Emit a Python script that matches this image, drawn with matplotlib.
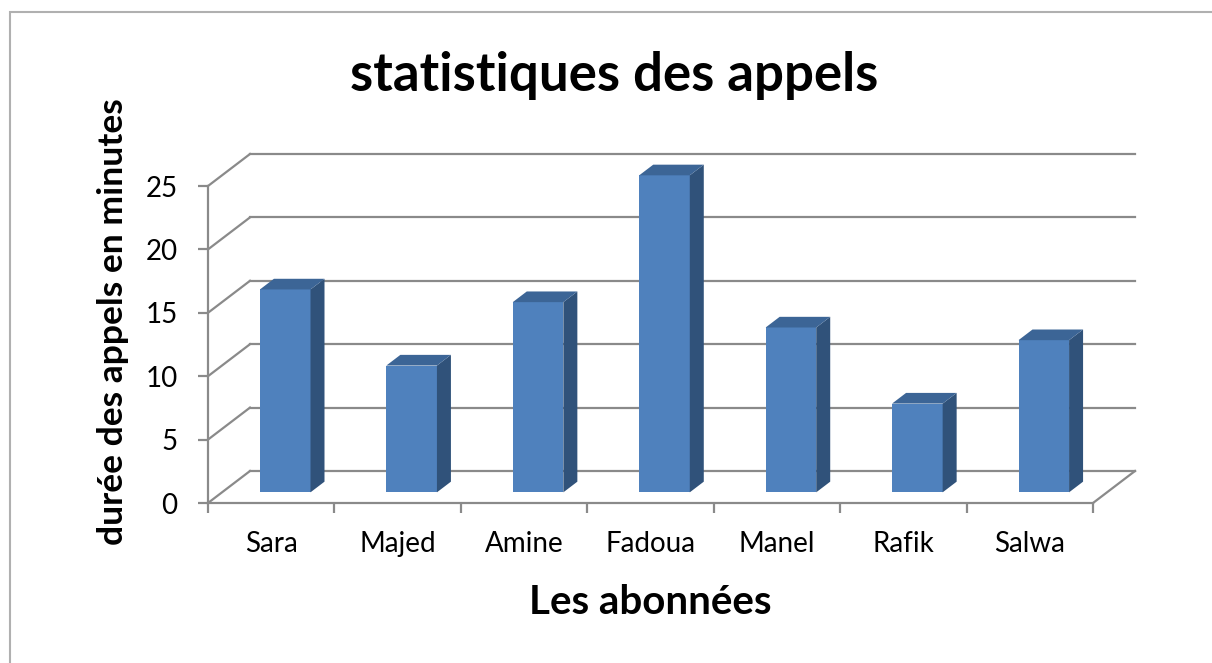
import numpy as np
import matplotlib
matplotlib.use("Agg")
import matplotlib.pyplot as plt
from matplotlib.patches import Rectangle

names = ["Sara", "Majed", "Amine", "Fadoua", "Manel", "Rafik", "Salwa"]
minutes = [16, 10, 15, 25, 13, 7, 12]
yticks = [0, 5, 10, 15, 20, 25]

plt.rcParams['font.family'] = ['Lato', 'DejaVu Sans']

W, H = 1212, 663
fig = plt.figure(figsize=(W / 100, H / 100), dpi=100)

# axes placed in pixels, limits chosen so the 3D frame lands where the reference has it
left_px, right_px, top_px, bot_px = 150, 1180, 120, 530
ax = fig.add_axes([left_px / W, 1 - bot_px / H, (right_px - left_px) / W, (bot_px - top_px) / H])
x0_px, x7_px, y0_px, y25_px = 208, 1093, 503, 186
sx = (x7_px - x0_px) / 7.0
sy = (y0_px - y25_px) / 25.0
ax.set_xlim((left_px - x0_px) / sx, (right_px - x0_px) / sx)
ax.set_ylim((y0_px - bot_px) / sy, (y0_px - top_px) / sy)

# depth of the 3D box, in data units
dx, dy = 42 / sx, 32 / sy
n = len(names)
grey = "#8a8a8a"

# back wall grid + side wall diagonals
for v in yticks:
    ax.plot([dx, n + dx], [v + dy, v + dy], color=grey, lw=1.6, zorder=1)
    ax.plot([0, dx], [v, v + dy], color=grey, lw=1.6, zorder=1)
# floor
ax.plot([n, n + dx], [0, dy], color=grey, lw=1.6, zorder=1)

# bars: front face at 1/3 of the depth, back at 2/3
bw = 0.4
fdx, fdy = dx / 3, dy / 3
xs = np.arange(n) + 0.5 + fdx
ax.bar(xs, minutes, width=bw, bottom=fdy, color="#4f81bd", zorder=3)
for xc, v in zip(xs, minutes):
    xl, xr = xc - bw / 2, xc + bw / 2
    top = v + fdy
    ax.fill([xr, xr + fdx, xr + fdx, xr], [fdy, 2 * fdy, top + fdy, top],
            color="#30527a", zorder=3, lw=0)
    ax.fill([xl, xr, xr + fdx, xl + fdx], [top, top, top + fdy, top + fdy],
            color="#3c6596", zorder=3, lw=0)

# front axes
for s in ["top", "right"]:
    ax.spines[s].set_visible(False)
ax.spines["left"].set_position(("data", 0))
ax.spines["left"].set_bounds(0, 25)
ax.spines["bottom"].set_position(("data", 0))
ax.spines["bottom"].set_bounds(0, n)
for s in ["left", "bottom"]:
    ax.spines[s].set_color(grey)
    ax.spines[s].set_linewidth(1.6)
    ax.spines[s].set_zorder(2)

ax.set_yticks(yticks)
ax.set_yticklabels([str(t) for t in yticks])
ax.tick_params(axis="y", length=7, width=1.6, color=grey, pad=15, labelsize=20)
ax.set_xticks(np.arange(n) + 0.5)
ax.set_xticklabels(names)
ax.set_xticks(np.arange(n + 1), minor=True)
ax.tick_params(axis="x", which="major", length=0, pad=20, labelsize=20)
ax.tick_params(axis="x", which="minor", length=7, width=1.6, color=grey)
ax.patch.set_visible(False)

fig.text(614 / W, 1 - 75 / H, "statistiques des appels", ha="center", va="center",
         fontsize=38, fontweight="bold")
fig.text(650 / W, 1 - 603 / H, "Les abonnées", ha="center", va="center",
         fontsize=29, fontweight="bold")
fig.text(113 / W, 1 - 322 / H, "durée des appels en minutes", ha="center", va="center",
         rotation=90, fontsize=25.5, fontweight="bold")

# chart frame
fig.add_artist(Rectangle((10 / W, -0.1), 1.2, 1 - 12 / H + 0.1, transform=fig.transFigure,
                         fill=False, edgecolor="#b0b0b0", lw=1.5))

fig.savefig("out.png", dpi=100)
